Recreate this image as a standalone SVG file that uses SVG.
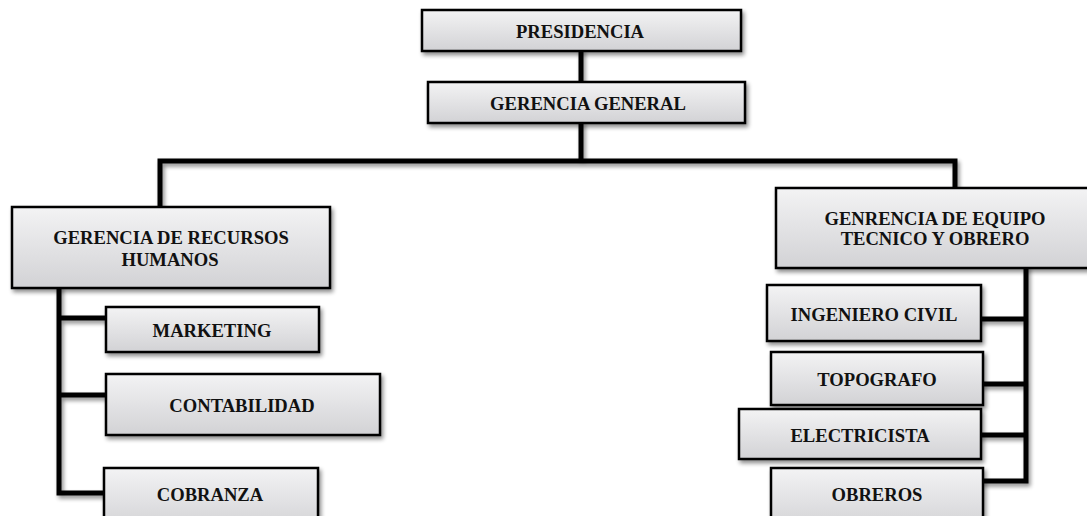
<svg xmlns="http://www.w3.org/2000/svg" width="1087" height="516" viewBox="0 0 1087 516">
<defs>
<linearGradient id="g" x1="0" y1="0" x2="0" y2="1">
<stop offset="0" stop-color="#f3f3f4"/>
<stop offset="1" stop-color="#d2d2d5"/>
</linearGradient>
<filter id="sh" x="-5%" y="-10%" width="115%" height="135%">
<feGaussianBlur in="SourceAlpha" stdDeviation="2"/>
<feOffset dx="2" dy="3" result="b"/>
<feComponentTransfer><feFuncA type="linear" slope="0.45"/></feComponentTransfer>
<feMerge><feMergeNode/><feMergeNode in="SourceGraphic"/></feMerge>
</filter>
</defs>
<style>
.box{fill:url(#g);stroke:#000;stroke-width:2.5;filter:url(#sh)}
.t{font-family:"Liberation Serif","Times New Roman",serif;font-weight:bold;font-size:18.6px;fill:#111;text-anchor:middle}
.c{fill:none;stroke:#000;stroke-width:5;stroke-linejoin:miter;stroke-linecap:square}
</style>
<rect width="1087" height="516" fill="#fff"/>
<g id="connectors" filter="url(#sh)">
<path class="c" d="M581,51 V82"/>
<path class="c" d="M581,123 V161 M160,205 V161 H955 V187"/>
<path class="c" d="M59,288 V493 H104 M59,318 H106 M59,395 H106"/>
<path class="c" d="M1026,268 V481 H983 M981,319 H1026 M983,384 H1026 M981,435 H1026"/>
</g>
<g id="presidencia"><rect class="box" x="422" y="10" width="319" height="41"/><text class="t" x="580" y="38">PRESIDENCIA</text></g>
<g id="gerencia-general"><rect class="box" x="428" y="82" width="317" height="41"/><text class="t" x="588" y="110">GERENCIA GENERAL</text></g>
<g id="rrhh"><rect class="box" x="12" y="207" width="318" height="81"/><text class="t" x="171" y="244">GERENCIA DE RECURSOS</text><text class="t" x="170" y="266">HUMANOS</text></g>
<g id="marketing"><rect class="box" x="106" y="307" width="213" height="45"/><text class="t" x="212" y="337">MARKETING</text></g>
<g id="contabilidad"><rect class="box" x="106" y="374" width="274" height="61"/><text class="t" x="242" y="412">CONTABILIDAD</text></g>
<g id="cobranza"><rect class="box" x="104" y="468" width="214" height="62"/><text class="t" x="210" y="501">COBRANZA</text></g>
<g id="equipo"><rect class="box" x="776" y="188" width="320" height="80"/><text class="t" x="935" y="225">GENRENCIA DE EQUIPO</text><text class="t" x="935" y="245">TECNICO Y OBRERO</text></g>
<g id="ingeniero"><rect class="box" x="767" y="285" width="214" height="56"/><text class="t" x="874" y="321">INGENIERO CIVIL</text></g>
<g id="topografo"><rect class="box" x="771" y="352" width="212" height="53"/><text class="t" x="877" y="386">TOPOGRAFO</text></g>
<g id="electricista"><rect class="box" x="739" y="409" width="242" height="50"/><text class="t" x="860" y="442">ELECTRICISTA</text></g>
<g id="obreros"><rect class="box" x="771" y="468" width="212" height="62"/><text class="t" x="877" y="501">OBREROS</text></g>
</svg>
